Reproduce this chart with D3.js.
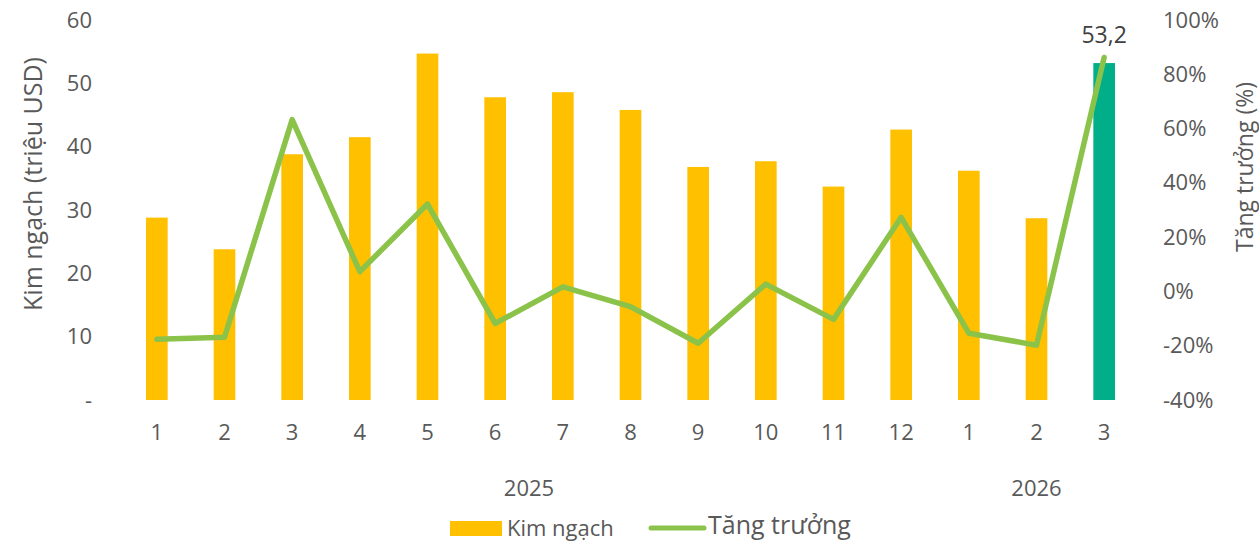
<!DOCTYPE html>
<html>
<head>
<meta charset="utf-8">
<script src="https://cdn.jsdelivr.net/npm/d3@7"></script>
<style>
  body { margin: 0; background: #fff; }
  svg text { font-family: "Open Sans", sans-serif; fill: #595959; }
</style>
</head>
<body>
<svg id="chart"></svg>
<script>
// data
const months = ["1", "2", "3", "4", "5", "6", "7", "8", "9", "10", "11", "12", "1", "2", "3"];
const years = [{ label: "2025", from: 0, to: 11 }, { label: "2026", from: 12, to: 14 }];
const kimNgach = [28.8, 23.8, 38.8, 41.5, 54.7, 47.8, 48.6, 45.8, 36.8, 37.7, 33.7, 42.7, 36.2, 28.7, 53.2];
const tangTruong = [-17.6, -16.9, 63.3, 7.3, 32.2, -11.8, 1.7, -5.6, -19.1, 2.7, -10.3, 27.3, -15.4, -19.8, 86.2];
const leftTicks = [0, 10, 20, 30, 40, 50, 60];
const rightTicks = [-40, -20, 0, 20, 40, 60, 80, 100];

const width = 1259, height = 543;
const svg = d3.select("#chart").attr("width", width).attr("height", height);

const idx = months.map((d, i) => i);
const scX = d3.scaleBand().domain(idx).range([123, 1138]).paddingInner(0.68).paddingOuter(0.34);
const scY = d3.scaleLinear().domain([0, 60]).range([400, 20]);
const scY2 = d3.scaleLinear().domain([-40, 100]).range([400, 20]);
const cx = i => scX(i) + scX.bandwidth() / 2;

// left axis
const axisL = svg.append("g")
    .attr("transform", "translate(100,0)")
    .call(d3.axisLeft(scY).tickValues(leftTicks).tickSize(0).tickPadding(8)
        .tickFormat(d => d === 0 ? "-" : d));
axisL.select(".domain").remove();
axisL.selectAll("text").style("font-size", "22px").attr("fill", "#595959");

// right axis
const axisR = svg.append("g")
    .attr("transform", "translate(1158,0)")
    .call(d3.axisRight(scY2).tickValues(rightTicks).tickSize(0).tickPadding(5)
        .tickFormat(d => d + "%"));
axisR.select(".domain").remove();
axisR.selectAll("text").style("font-size", "22px").attr("fill", "#595959");

// bottom axis (months)
const axisB = svg.append("g")
    .attr("transform", "translate(0,400)")
    .call(d3.axisBottom(scX).tickSize(0).tickPadding(24).tickFormat(i => months[i]));
axisB.select(".domain").remove();
axisB.selectAll("text").style("font-size", "22px").attr("fill", "#595959");

// year labels
svg.selectAll(".year").data(years).enter().append("text").attr("class", "year")
    .attr("x", d => (cx(d.from) + cx(d.to)) / 2)
    .attr("y", 496)
    .attr("text-anchor", "middle")
    .style("font-size", "22px")
    .text(d => d.label);

// axis titles
svg.append("text")
    .attr("transform", "translate(42,184) rotate(-90)")
    .attr("text-anchor", "middle")
    .style("font-size", "25px")
    .text("Kim ngạch (triệu USD)");
svg.append("text")
    .attr("transform", "translate(1253,167) rotate(-90)")
    .attr("text-anchor", "middle")
    .style("font-size", "23px")
    .text("Tăng trưởng (%)");

// bars
svg.selectAll(".bar").data(kimNgach).enter().append("rect").attr("class", "bar")
    .attr("x", (d, i) => scX(i))
    .attr("y", d => scY(d))
    .attr("width", scX.bandwidth())
    .attr("height", d => scY(0) - scY(d))
    .style("fill", (d, i) => i === kimNgach.length - 1 ? "#00AE8A" : "#FFC000");

// label for last bar
const last = kimNgach.length - 1;
svg.append("text")
    .attr("x", cx(last))
    .attr("y", 43)
    .attr("text-anchor", "middle")
    .style("font-size", "23px")
    .style("fill", "#404040")
    .text(String(kimNgach[last]).replace(".", ","));

// growth line
const line = d3.line().x((d, i) => cx(i)).y(d => scY2(d));
svg.append("path")
    .datum(tangTruong)
    .attr("d", line)
    .attr("fill", "none")
    .attr("stroke", "#8BC34A")
    .attr("stroke-width", 5.5)
    .attr("stroke-linejoin", "round")
    .attr("stroke-linecap", "round");

// legend
const legend = svg.append("g");
legend.append("rect").attr("x", 450).attr("y", 521).attr("width", 52).attr("height", 15).style("fill", "#FFC000");
legend.append("text").attr("x", 507).attr("y", 536).style("font-size", "22px").text("Kim ngạch");
legend.append("line").attr("x1", 651).attr("x2", 704).attr("y1", 528).attr("y2", 528)
    .attr("stroke", "#8BC34A").attr("stroke-width", 5).attr("stroke-linecap", "round");
legend.append("text").attr("x", 708).attr("y", 534).style("font-size", "25px").text("Tăng trưởng");
</script>
</body>
</html>
